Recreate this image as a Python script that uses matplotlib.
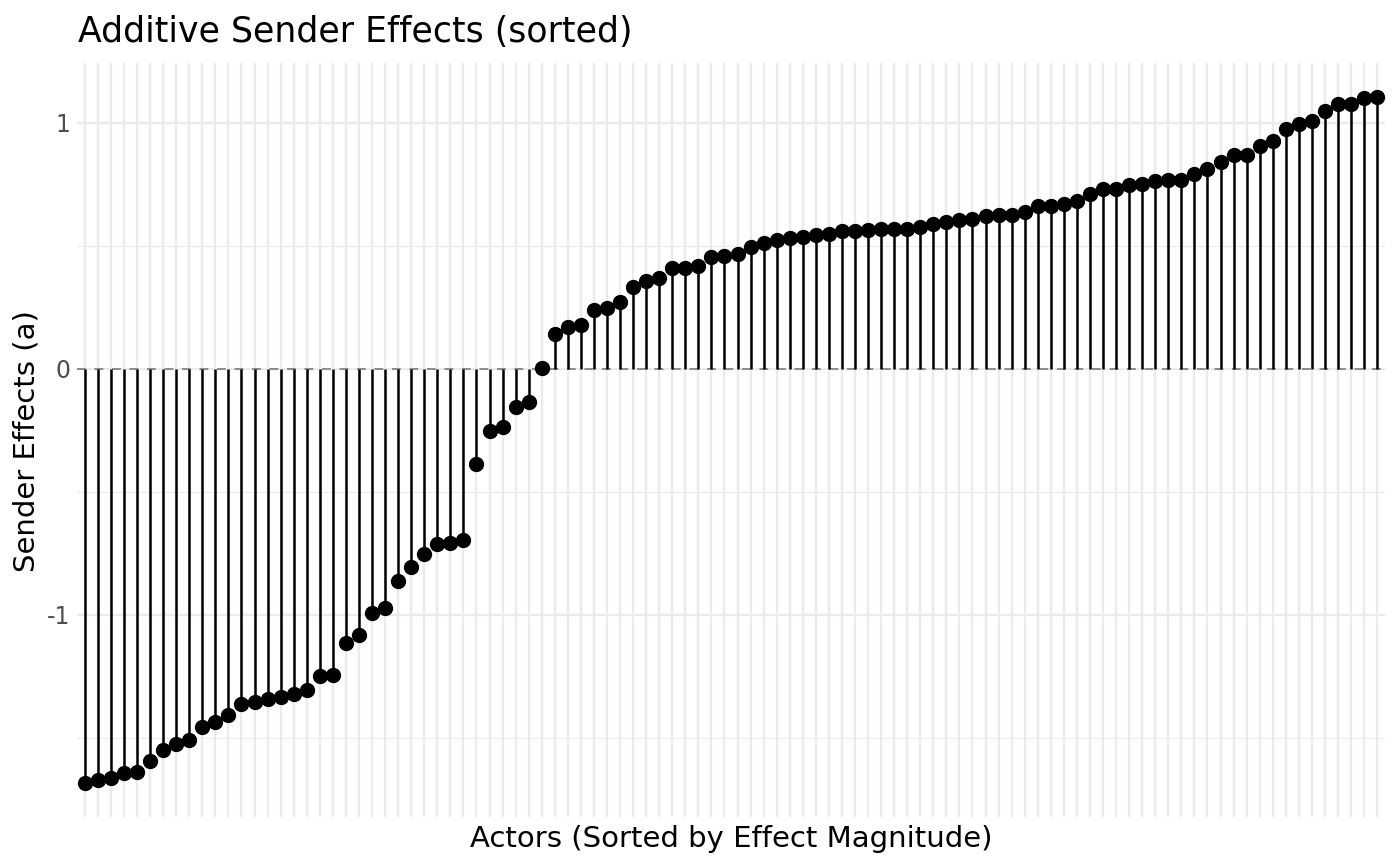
import matplotlib
matplotlib.use("Agg")
import matplotlib.pyplot as plt
import numpy as np

# Sorted additive sender effects (100 actors)
effects = [
    -1.684, -1.673, -1.664, -1.644, -1.641, -1.596, -1.549, -1.528, -1.508, -1.457,
    -1.436, -1.409, -1.362, -1.356, -1.343, -1.335, -1.321, -1.305, -1.251, -1.245,
    -1.115, -1.083, -0.993, -0.973, -0.864, -0.806, -0.752, -0.713, -0.709, -0.697,
    -0.388, -0.252, -0.238, -0.157, -0.134, 0.004, 0.141, 0.169, 0.179, 0.237,
    0.245, 0.271, 0.332, 0.358, 0.367, 0.408, 0.408, 0.416, 0.454, 0.457,
    0.466, 0.493, 0.511, 0.523, 0.530, 0.535, 0.543, 0.547, 0.561, 0.561,
    0.562, 0.566, 0.567, 0.567, 0.577, 0.588, 0.596, 0.604, 0.607, 0.619,
    0.623, 0.623, 0.637, 0.663, 0.663, 0.671, 0.680, 0.710, 0.730, 0.732,
    0.745, 0.751, 0.764, 0.766, 0.766, 0.791, 0.813, 0.840, 0.867, 0.870,
    0.907, 0.924, 0.974, 0.995, 1.008, 1.046, 1.077, 1.077, 1.100, 1.104,
]
actors = np.arange(1, len(effects) + 1)
y_ticks = [-1, 0, 1]
y_tick_labels = ["-1", "0", "1"]
y_minor = [-1.5, -0.5, 0.5]

title = "Additive Sender Effects (sorted)"
xlabel = "Actors (Sorted by Effect Magnitude)"
ylabel = "Sender Effects (a)"

fig = plt.figure(figsize=(14, 8.66), dpi=100)
ax = fig.add_axes([77 / 1400, 1 - 817 / 866, (1385 - 77) / 1400, (817 - 63) / 866])

grid_col = "#EBEBEB"
ax.set_xticks(actors)
ax.set_xticklabels([])
ax.set_yticks(y_ticks)
ax.set_yticklabels(y_tick_labels)
ax.set_yticks(y_minor, minor=True)
ax.tick_params(axis="both", which="both", length=0)
ax.tick_params(axis="y", labelsize=17, labelcolor="#4D4D4D", pad=5)
ax.grid(True, which="major", color=grid_col, lw=1.7)
ax.grid(True, which="minor", axis="y", color=grid_col, lw=0.85)
ax.set_axisbelow(True)
for s in ax.spines.values():
    s.set_visible(False)

ax.axhline(0, color="#8C8C8C", lw=1.4, ls=(0, (4.5, 4.5)), zorder=1)
ax.vlines(actors, 0, effects, color="black", lw=1.8, zorder=2)
ax.plot(actors, effects, "o", color="black", ms=10, zorder=3)

ax.set_xlim(0.4, len(effects) + 0.6)
ax.set_ylim(-1.823, 1.243)

fig.text(78 / 1400, 1 - 42 / 866, title, fontsize=25, ha="left", va="baseline", color="black")
fig.text((77 + 1385) / 2 / 1400, 1 - 847 / 866, xlabel, fontsize=21, ha="center", va="baseline")
fig.text(27 / 1400, 1 - 441 / 866, ylabel, fontsize=21, ha="center", va="center", rotation=90)

fig.savefig("out.png", dpi=100, facecolor="white")
